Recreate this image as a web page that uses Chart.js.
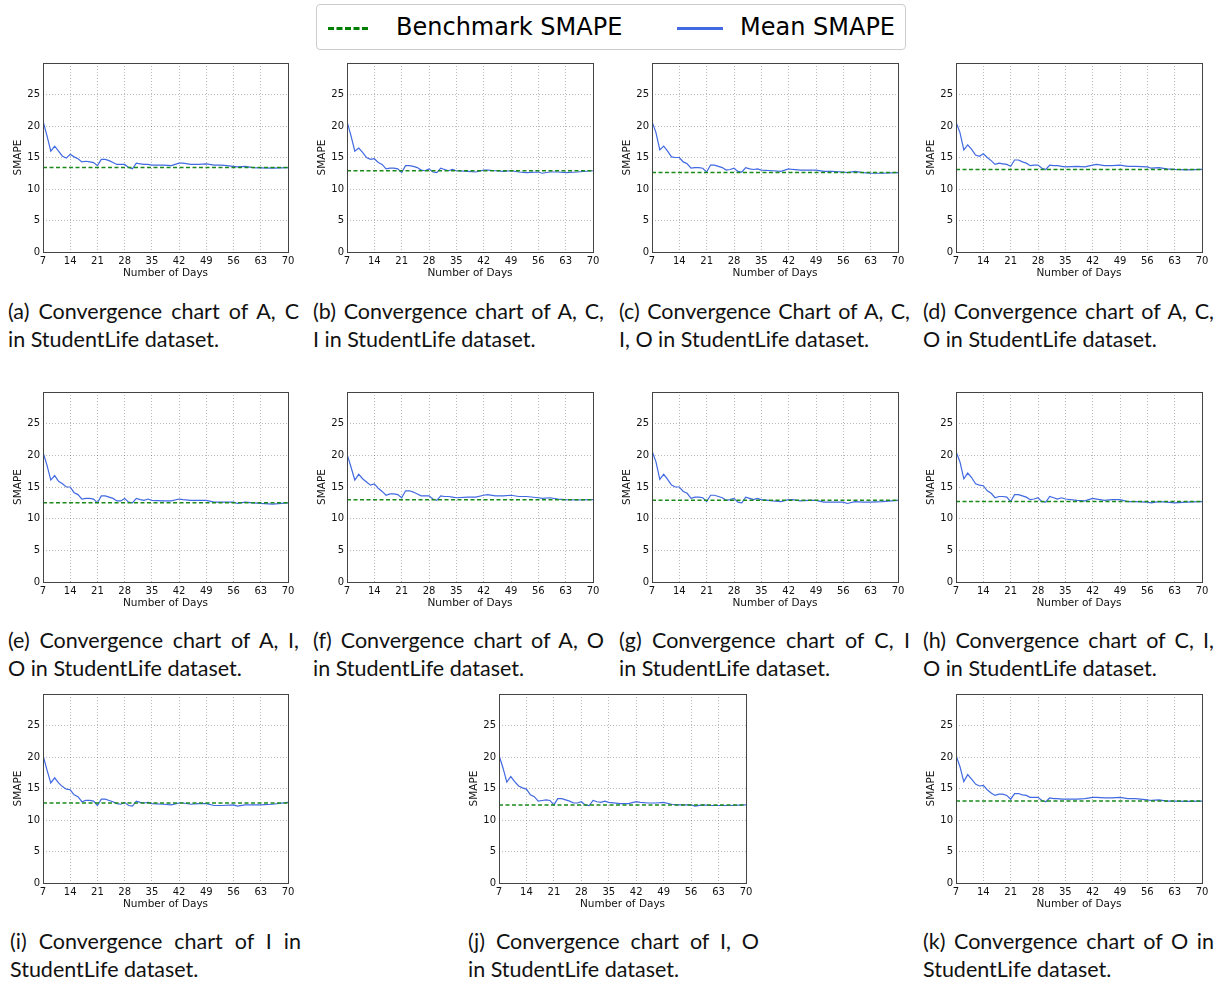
<!DOCTYPE html>
<html>
<head>
<meta charset="utf-8">
<script src="https://cdn.jsdelivr.net/npm/chart.js@4"></script>
<style>
  body { margin: 0; background: #fff; width: 1224px; height: 985px; position: relative; overflow: hidden; }
  .panel { position: absolute; }
  .cap { position: absolute; width: 291px; font-family: Lato, "Open Sans", sans-serif; font-size: 21.5px; line-height: 28px; color: #111; }
  .cap .l1 { text-align: justify; text-align-last: justify; white-space: nowrap; }
  #legend { position: absolute; left: 316px; top: 4px; width: 588px; height: 44px; border: 1px solid #ccc; border-radius: 4px;
            font-family: "DejaVu Sans", sans-serif; font-size: 24px; color: #000; }
  #legend .s { position: absolute; top: 22px; height: 0; }
  #legend .t { position: absolute; top: 7px; line-height: 30px; white-space: nowrap; }
</style>
</head>
<body>
<div id="legend">
  <div class="s" style="left:11px;width:40px;border-top:3px dashed #008000;"></div>
  <div class="t" style="left:79px;">Benchmark SMAPE</div>
  <div class="s" style="left:360px;width:46px;border-top:3px solid #4169e1;"></div>
  <div class="t" style="left:423px;">Mean SMAPE</div>
</div>
<script>
// shared axes
const days = [7,8,9,10,11,12,13,14,15,16,17,18,19,20,21,22,23,24,25,26,27,28,29,30,31,32,33,34,35,38,40,42,43,45,47,49,51,53,56,57,59,61,63,66,70];
const xTicks = [7,14,21,28,35,42,49,56,63,70];
const yTicks = [0,5,10,15,20,25];

// benchmark SMAPE per panel
const benchA = 13.4, benchB = 12.9, benchC = 12.6, benchD = 13.1, benchE = 12.5, benchF = 13.0,
      benchG = 12.9, benchH = 12.7, benchI = 12.7, benchJ = 12.4, benchK = 13.0;

// mean SMAPE per panel
const meanA = [20.8,18.5,16.0,16.8,16.0,15.2,14.9,15.5,15.1,14.8,14.3,14.4,14.3,14.2,13.7,14.7,14.7,14.5,14.2,13.9,13.9,13.9,13.4,13.2,14.1,14.0,13.9,13.9,13.8,13.8,13.7,14.1,14.1,13.9,13.9,14.0,13.8,13.8,13.6,13.5,13.6,13.4,13.35,13.3,13.4];
const meanB = [20.7,18.5,16.0,16.5,15.8,15.0,14.7,14.8,14.2,13.9,13.2,13.3,13.3,13.2,12.6,13.7,13.7,13.6,13.4,13.0,12.9,13.2,12.7,12.6,13.3,13.1,12.9,13.1,12.9,12.8,12.7,13.0,13.0,12.9,12.8,12.9,12.7,12.6,12.7,12.5,12.7,12.7,12.6,12.7,12.9];
const meanC = [20.7,19.0,16.2,16.8,16.0,15.1,15.0,15.0,14.3,14.0,13.3,13.4,13.4,13.3,12.7,13.8,13.8,13.6,13.4,13.0,13.1,13.3,12.8,12.7,13.4,13.2,13.1,13.2,13.0,12.9,12.8,13.2,13.1,13.0,13.0,13.0,12.8,12.8,12.7,12.6,12.8,12.6,12.5,12.5,12.6];
const meanD = [20.6,19.0,16.2,17.0,16.3,15.4,15.2,15.6,15.0,14.5,13.9,14.1,14.0,13.9,13.6,14.6,14.6,14.3,14.1,13.7,13.8,13.8,13.3,13.1,13.8,13.7,13.7,13.6,13.5,13.6,13.5,13.8,13.9,13.7,13.7,13.8,13.6,13.6,13.5,13.3,13.4,13.2,13.1,13.05,13.1];
const meanE = [20.5,18.5,16.1,16.8,15.9,15.5,15.0,15.0,14.1,13.8,13.1,13.2,13.2,13.1,12.5,13.6,13.6,13.4,13.2,12.8,12.8,13.2,12.6,12.5,13.2,13.0,12.9,13.1,12.9,12.8,12.8,13.1,13.0,12.9,12.9,12.9,12.6,12.6,12.6,12.4,12.6,12.5,12.4,12.3,12.5];
const meanF = [20.2,18.2,16.1,17.0,16.3,15.8,15.3,15.5,14.8,14.3,13.7,13.9,13.9,13.8,13.3,14.4,14.4,14.2,13.9,13.6,13.6,13.6,13.1,12.9,13.6,13.5,13.5,13.4,13.3,13.4,13.4,13.7,13.8,13.6,13.6,13.7,13.5,13.5,13.3,13.2,13.3,13.1,13.0,12.95,13.0];
const meanG = [20.7,19.0,16.2,17.0,16.2,15.3,15.0,15.0,14.3,14.0,13.2,13.4,13.4,13.3,12.7,13.7,13.7,13.5,13.3,12.9,13.0,13.2,12.6,12.5,13.4,13.2,13.0,13.2,13.0,12.8,12.7,13.0,13.0,12.8,12.9,12.9,12.6,12.6,12.6,12.4,12.7,12.6,12.6,12.7,12.9];
const meanH = [20.6,19.0,16.3,17.2,16.5,15.5,15.3,15.2,14.4,14.0,13.3,13.5,13.5,13.4,12.7,13.8,13.8,13.6,13.4,13.0,13.1,13.3,12.7,12.6,13.5,13.3,13.1,13.3,13.1,12.9,12.8,13.2,13.1,12.9,13.0,13.0,12.7,12.7,12.6,12.5,12.7,12.6,12.5,12.6,12.7];
const meanI = [20.3,18.0,15.9,16.7,15.9,15.3,14.9,14.8,14.0,13.7,12.9,13.1,13.1,13.0,12.3,13.3,13.3,13.1,12.9,12.6,12.5,12.8,12.3,12.2,13.0,12.8,12.7,12.8,12.6,12.5,12.4,12.7,12.7,12.5,12.6,12.6,12.3,12.3,12.4,12.2,12.4,12.4,12.4,12.5,12.8];
const meanJ = [20.3,18.3,16.0,16.9,16.1,15.4,15.1,14.9,14.0,13.7,13.0,13.1,13.2,13.1,12.4,13.4,13.4,13.2,13.0,12.7,12.7,12.9,12.4,12.3,13.1,12.9,12.8,13.0,12.8,12.6,12.6,12.9,12.8,12.7,12.7,12.8,12.5,12.4,12.4,12.2,12.4,12.3,12.3,12.3,12.4];
const meanK = [20.3,18.5,16.1,17.2,16.5,15.7,15.4,15.5,14.8,14.3,13.9,14.1,14.1,13.9,13.3,14.2,14.2,14.0,13.9,13.6,13.6,13.6,13.1,12.9,13.5,13.4,13.4,13.3,13.3,13.3,13.4,13.6,13.6,13.5,13.5,13.6,13.4,13.4,13.2,13.1,13.2,13.0,13.0,12.95,13.0];

const captions = [
  ['(a) Convergence chart of A, C', 'in StudentLife dataset.'],
  ['(b) Convergence chart of A, C,', 'I in StudentLife dataset.'],
  ['(c) Convergence Chart of A, C,', 'I, O in StudentLife dataset.'],
  ['(d) Convergence chart of A, C,', 'O in StudentLife dataset.'],
  ['(e) Convergence chart of A, I,', 'O in StudentLife dataset.'],
  ['(f) Convergence chart of A, O', 'in StudentLife dataset.'],
  ['(g) Convergence chart of C, I', 'in StudentLife dataset.'],
  ['(h) Convergence chart of C, I,', 'O in StudentLife dataset.'],
  ['(i) Convergence chart of I in', 'StudentLife dataset.'],
  ['(j) Convergence chart of I, O', 'in StudentLife dataset.'],
  ['(k) Convergence chart of O in', 'StudentLife dataset.']
];

// plot area boxes [left, top, right, bottom] and caption positions
const panels = [
  { mean: meanA, bench: benchA, box: [43, 62, 288, 252],   cap: [8, 297] },
  { mean: meanB, bench: benchB, box: [347, 62, 593, 252],  cap: [313, 297] },
  { mean: meanC, bench: benchC, box: [652, 62, 898, 252],  cap: [619, 297] },
  { mean: meanD, bench: benchD, box: [956, 62, 1202, 252], cap: [923, 297] },
  { mean: meanE, bench: benchE, box: [43, 391, 288, 582],  cap: [8, 626] },
  { mean: meanF, bench: benchF, box: [347, 391, 593, 582], cap: [313, 626] },
  { mean: meanG, bench: benchG, box: [652, 391, 898, 582], cap: [619, 626] },
  { mean: meanH, bench: benchH, box: [956, 391, 1202, 582], cap: [923, 626] },
  { mean: meanI, bench: benchI, box: [43, 693, 288, 883],  cap: [10, 927] },
  { mean: meanJ, bench: benchJ, box: [499, 693, 746, 883], cap: [468, 927] },
  { mean: meanK, bench: benchK, box: [956, 693, 1202, 883], cap: [923, 927] }
];

// frame round the whole plot area, like matplotlib axes
const frame = {
  id: 'frame',
  afterDraw(chart) {
    const a = chart.chartArea, ctx = chart.ctx;
    ctx.save();
    ctx.strokeStyle = '#444';
    ctx.lineWidth = 1;
    ctx.strokeRect(Math.round(a.left) + 0.5, Math.round(a.top) + 0.5, Math.round(a.right - a.left), Math.round(a.bottom - a.top));
    ctx.restore();
  }
};

const tickFont = { family: 'DejaVu Sans', size: 10 };
const grid = { color: 'rgba(0,0,0,0.35)', lineWidth: 0.8, drawTicks: false };
const border = { display: false, dash: [1, 2] };

panels.forEach((p, i) => {
  const [l, t, r, b] = p.box;
  const cl = l - 43, ct = t - 8, cw = r - cl + 12, ch = b - ct + 30;
  const canvas = document.createElement('canvas');
  const wrap = document.createElement('div');
  wrap.className = 'panel';
  wrap.style.left = cl + 'px';
  wrap.style.top = ct + 'px';
  wrap.style.width = cw + 'px';
  wrap.style.height = ch + 'px';
  wrap.appendChild(canvas);
  document.body.appendChild(wrap);

  new Chart(canvas.getContext('2d'), {
    type: 'line',
    data: {
      datasets: [
        {
          label: 'Benchmark SMAPE',
          data: [{ x: days[0], y: p.bench }, { x: days[days.length - 1], y: p.bench }],
          borderColor: '#1a8a1a',
          borderWidth: 1.5,
          borderDash: [4, 2.5],
          pointRadius: 0
        },
        {
          label: 'Mean SMAPE',
          data: days.map((d, k) => ({ x: d, y: p.mean[k] })),
          borderColor: '#4169e1',
          borderWidth: 1.2,
          pointRadius: 0,
          tension: 0
        }
      ]
    },
    options: {
      responsive: true,
      maintainAspectRatio: false,
      animation: false,
      layout: { padding: { left: 0, top: 8, right: 12, bottom: 0 } },
      plugins: { legend: { display: false }, tooltip: { enabled: false } },
      scales: {
        x: {
          type: 'linear',
          min: 7,
          max: 70,
          afterBuildTicks: s => { s.ticks = xTicks.map(v => ({ value: v })); },
          afterFit: s => { s.height = 30; },
          ticks: { font: tickFont, color: '#111', padding: 3, maxRotation: 0 },
          grid: grid,
          border: border,
          title: { display: true, text: 'Number of Days', font: { family: 'DejaVu Sans', size: 10.5 }, color: '#111', padding: { top: 0, bottom: 2 } }
        },
        y: {
          min: 0,
          max: 30,
          afterBuildTicks: s => { s.ticks = yTicks.map(v => ({ value: v })); },
          afterFit: s => { s.width = 43; },
          ticks: { font: tickFont, color: '#111', padding: 3 },
          grid: grid,
          border: border,
          title: { display: true, text: 'SMAPE', font: { family: 'DejaVu Sans', size: 10.5 }, color: '#111', padding: { top: 12, bottom: 0 } }
        }
      }
    },
    plugins: [frame]
  });

  const cap = document.createElement('div');
  cap.className = 'cap';
  cap.style.left = p.cap[0] + 'px';
  cap.style.top = p.cap[1] + 'px';
  const l1 = document.createElement('div');
  l1.className = 'l1';
  l1.textContent = captions[i][0];
  const l2 = document.createElement('div');
  l2.textContent = captions[i][1];
  cap.appendChild(l1);
  cap.appendChild(l2);
  document.body.appendChild(cap);
});
</script>
</body>
</html>
